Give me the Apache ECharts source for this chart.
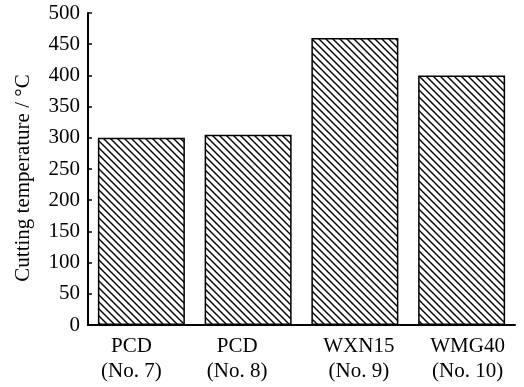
<!DOCTYPE html>
<html><head><meta charset="utf-8">
<script src="https://cdn.jsdelivr.net/npm/echarts@6/dist/echarts.min.js"></script>
<style>html,body{margin:0;padding:0;background:#fff}#c{width:524px;height:387px}</style>
</head><body><div id="c"></div>
<script>
const categories = ['PCD\n(No. 7)', 'PCD\n(No. 8)', 'WXN15\n(No. 9)', 'WMG40\n(No. 10)'];
const temperatures = [300, 305, 460, 400];
const yTicks = [0, 50, 100, 150, 200, 250, 300, 350, 400, 450, 500];

function hatch() {
  const s = 7;
  const cv = document.createElement('canvas');
  cv.width = s; cv.height = s;
  const g = cv.getContext('2d');
  g.fillStyle = '#fff'; g.fillRect(0, 0, s, s);
  g.strokeStyle = '#000'; g.lineWidth = 1.4;
  g.beginPath();
  g.moveTo(-2, -2); g.lineTo(s + 2, s + 2);
  g.moveTo(-2, s - 2); g.lineTo(2, s + 2);
  g.moveTo(s - 2, -2); g.lineTo(s + 2, 2);
  g.stroke();
  return cv;
}

const font = '"Liberation Serif", "Times New Roman", serif';
// horizontal label shifts (px) relative to bar centre, as in the reference
const shifts = [-10, -11, 4, 6];
const rich = {};
shifts.forEach((d, i) => {
  rich['r' + i] = {
    color: '#000', fontFamily: font, fontSize: 21, lineHeight: 25,
    padding: d < 0 ? [0, -2 * d, 0, 0] : [0, 0, 0, 2 * d]
  };
});

const chart = echarts.init(document.getElementById('c'), null, {renderer: 'canvas'});
chart.setOption({
  animation: false,
  grid: {left: 88, right: 9, top: 13, bottom: 62},
  xAxis: {
    type: 'category',
    data: categories,
    axisLine: {lineStyle: {color: '#000', width: 2}},
    axisTick: {show: false},
    axisLabel: {color: '#000', fontFamily: font, fontSize: 21, lineHeight: 25, margin: 9,
      interval: 0, hideOverlap: false,
      formatter: (v, i) => v.split('\n').map(s => '{r' + i + '|' + s + '}').join('\n'),
      rich: rich}
  },
  yAxis: {
    type: 'value',
    min: 0, max: 500, interval: 50,
    axisLine: {show: true, lineStyle: {color: '#000', width: 2}},
    axisTick: {show: true, inside: true, length: 4, lineStyle: {color: '#000', width: 1.5}},
    splitLine: {show: false},
    axisLabel: {color: '#000', fontFamily: font, fontSize: 21, margin: 8,
      formatter: v => yTicks.includes(v) ? String(v) : ''}
  },
  graphic: [{
    type: 'text', x: 23, y: 178, rotation: Math.PI / 2,
    style: {text: 'Cutting temperature / °C', font: '21px ' + font, fill: '#000',
      textAlign: 'center', textVerticalAlign: 'middle'}
  }],
  series: [{
    type: 'bar',
    data: temperatures,
    barWidth: 87,
    itemStyle: {color: {image: hatch(), repeat: 'repeat'}, borderColor: '#000', borderWidth: 1.5}
  }]
});
</script></body></html>
